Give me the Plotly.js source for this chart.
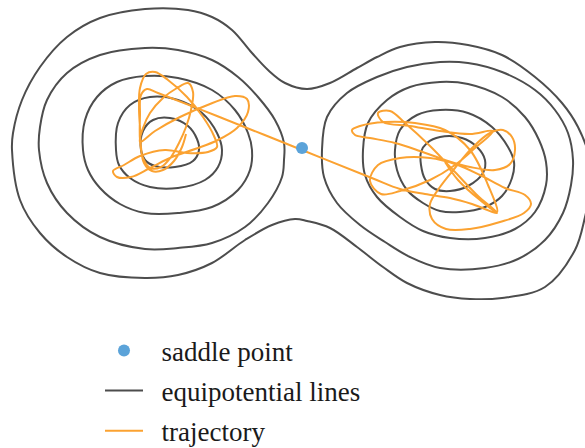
<!DOCTYPE html>
<html>
<head>
<meta charset="utf-8">
<script src="https://cdn.plot.ly/plotly-3.0.1.min.js"></script>
<style>
  html, body { margin: 0; padding: 0; background: #ffffff; }
  #chart { width: 585px; height: 448px; }
</style>
</head>
<body>
<div id="chart"></div>
<script>
// Double-well potential: saddle point at the origin, wells to the left and right.

// Saddle point
const saddleX = [0];
const saddleY = [0];

// Outermost equipotential line, enclosing both wells
const outerX = [-2.90,-2.89,-2.80,-2.62,-2.35,-2.02,-1.57,-1.14,-0.90,-0.70,-0.50,-0.34,-0.17,0.05,0.28,0.55,0.75,0.98,1.33,1.66,2.00,2.33,2.60,2.76,2.88,2.89,2.83,2.73,2.43,2.00,1.68,1.38,1.05,0.81,0.55,0.28,0.05,-0.07,-0.30,-0.57,-0.90,-1.24,-1.57,-2.02,-2.35,-2.62,-2.82,-2.90];
const outerY = [-0.02,0.15,0.48,0.81,1.11,1.30,1.39,1.38,1.31,1.18,0.95,0.78,0.65,0.59,0.65,0.80,0.91,1.01,1.06,1.03,0.93,0.71,0.45,0.21,-0.12,-0.37,-0.69,-1.02,-1.39,-1.50,-1.51,-1.47,-1.35,-1.19,-0.99,-0.80,-0.73,-0.71,-0.77,-0.92,-1.15,-1.27,-1.30,-1.25,-1.09,-0.85,-0.52,-0.02];

// Left well, from the outside in
const left1X = [-2.63,-2.62,-2.55,-2.35,-2.02,-1.57,-1.24,-0.90,-0.64,-0.44,-0.27,-0.18,-0.18,-0.20,-0.34,-0.57,-0.90,-1.24,-1.57,-2.02,-2.35,-2.55,-2.63];
const left1Y = [-0.02,0.21,0.48,0.75,0.93,1.00,0.98,0.88,0.71,0.51,0.28,0.05,-0.12,-0.29,-0.55,-0.79,-0.95,-1.00,-1.01,-0.89,-0.65,-0.35,-0.02];
const left2X = [-2.19,-2.17,-2.05,-1.85,-1.57,-1.24,-0.90,-0.67,-0.54,-0.50,-0.52,-0.64,-0.90,-1.24,-1.57,-1.82,-2.02,-2.14,-2.19];
const left2Y = [-0.02,0.28,0.51,0.66,0.72,0.70,0.58,0.38,0.15,-0.02,-0.22,-0.42,-0.59,-0.65,-0.65,-0.56,-0.40,-0.22,-0.02];
const left3X = [-1.86,-1.84,-1.72,-1.52,-1.24,-1.00,-0.85,-0.80,-0.84,-0.97,-1.24,-1.52,-1.72,-1.83,-1.86];
const left3Y = [-0.02,0.25,0.43,0.51,0.48,0.35,0.15,-0.02,-0.19,-0.32,-0.40,-0.39,-0.30,-0.17,-0.02];
const left4X = [-1.61,-1.59,-1.49,-1.32,-1.14,-1.05,-1.03,-1.09,-1.27,-1.47,-1.57,-1.61];
const left4Y = [-0.02,0.17,0.28,0.30,0.22,0.09,-0.02,-0.13,-0.19,-0.18,-0.12,-0.02];

// Right well, from the outside in
const right1X = [0.20,0.25,0.45,0.75,1.05,1.38,1.66,2.00,2.33,2.53,2.66,2.71,2.69,2.61,2.43,2.16,1.83,1.38,1.08,0.83,0.58,0.35,0.22,0.20];
const right1Y = [-0.02,0.31,0.55,0.71,0.81,0.86,0.85,0.76,0.58,0.38,0.15,-0.12,-0.37,-0.65,-0.92,-1.11,-1.20,-1.20,-1.09,-0.94,-0.77,-0.55,-0.29,-0.02];
const right2X = [0.61,0.66,0.85,1.08,1.38,1.66,2.00,2.23,2.37,2.44,2.44,2.33,2.13,1.83,1.48,1.21,0.98,0.75,0.63,0.61];
const right2Y = [-0.02,0.25,0.48,0.61,0.66,0.64,0.51,0.31,0.08,-0.14,-0.37,-0.64,-0.81,-0.90,-0.90,-0.83,-0.69,-0.49,-0.27,-0.02];
const right3X = [0.93,0.98,1.15,1.38,1.66,1.90,2.06,2.12,2.10,2.00,1.83,1.58,1.38,1.21,1.05,0.95,0.93];
const right3Y = [-0.02,0.18,0.33,0.38,0.35,0.21,0.01,-0.14,-0.30,-0.48,-0.59,-0.64,-0.63,-0.55,-0.42,-0.22,-0.02];
const right4X = [1.19,1.25,1.38,1.60,1.75,1.83,1.81,1.66,1.48,1.33,1.23,1.19,1.19];
const right4Y = [-0.04,0.05,0.11,0.10,0.01,-0.12,-0.25,-0.38,-0.43,-0.41,-0.31,-0.17,-0.04];

// Trajectory: oscillates in the left well, crosses near the saddle, then wanders in the right well
const trajX = [
  -1.16,-1.20,-1.28,-1.39,-1.50,-1.58,-1.61,-1.62,-1.63,-1.62,-1.56,-1.47,-1.34,-1.15,-0.99,-0.88,-0.85,-0.94,-1.15,-1.37,
  -1.62,-1.78,-1.89,-1.85,-1.71,-1.52,-1.30,-1.07,-0.84,-0.65,-0.54,-0.55,-0.67,-0.92,-1.22,-1.47,-1.62,
  -1.59,-1.52,-1.39,-1.25,-1.14,-1.09,-1.11,-1.16,-1.23,-1.31,-1.41,-1.52,-1.59,-1.62,-1.62,-1.61,-1.55,-1.44,
  -0.85,0.00,0.71,0.98,
  1.23,1.48,1.70,1.95,1.76,1.53,1.28,1.03,0.88,0.76,0.81,1.08,1.38,1.68,1.91,1.73,1.53,1.28,0.98,0.79,0.68,0.76,0.98,1.28,1.53,
  1.78,2.03,2.23,2.29,2.22,1.98,1.68,1.44,1.30,1.28,1.38,1.53,1.70,1.88,2.01,2.10,2.13,2.08,1.93,1.68,1.43,1.18,0.93,0.68,0.53,0.50,
  0.58,0.83,1.13,1.43,1.68,1.86,1.95,1.78,1.56,1.43
];
const trajY = [
  0.14,0.01,-0.13,-0.22,-0.23,-0.15,0.01,0.20,0.40,0.60,0.74,0.76,0.68,0.51,0.31,0.12,0.01,-0.04,-0.05,-0.02,
  -0.08,-0.17,-0.23,-0.29,-0.29,-0.20,-0.09,-0.01,0.08,0.20,0.36,0.49,0.52,0.44,0.31,0.17,0.06,
  0.20,0.35,0.50,0.60,0.65,0.56,0.38,0.21,0.05,-0.09,-0.19,-0.20,-0.10,0.08,0.33,0.53,0.59,0.55,
  0.32,-0.02,-0.305,-0.41,
  -0.46,-0.50,-0.56,-0.65,-0.48,-0.24,0.02,0.25,0.37,0.35,0.26,0.22,0.17,0.14,0.17,0.00,-0.17,-0.32,-0.43,-0.46,-0.33,-0.17,-0.10,-0.10,-0.16,
  -0.27,-0.40,-0.47,-0.56,-0.65,-0.74,-0.81,-0.81,-0.71,-0.56,-0.39,-0.20,0.00,0.15,0.18,0.11,-0.02,-0.16,-0.22,-0.19,-0.12,-0.03,0.05,0.10,0.13,0.18,
  0.22,0.26,0.25,0.18,-0.02,-0.37,-0.64,-0.52,-0.32,-0.14
];

const LINE_GRAY = '#4d4d4d';
const ORANGE = '#fba231';
const BLUE = '#5ba3d9';

const rings = [
  [outerX, outerY], [left1X, left1Y], [left2X, left2Y], [left3X, left3Y], [left4X, left4Y],
  [right1X, right1Y], [right2X, right2Y], [right3X, right3Y], [right4X, right4Y]
];

const data = rings.map(function (r, i) {
  return {
    type: 'scatter', mode: 'lines', x: r[0], y: r[1],
    line: { color: LINE_GRAY, width: 2, shape: 'spline', smoothing: 1 },
    name: '\u2002equipotential lines', legendgroup: 'equipotential', legendrank: 2,
    showlegend: i === 0, hoverinfo: 'skip'
  };
});

data.push({
  type: 'scatter', mode: 'lines', x: trajX, y: trajY,
  line: { color: ORANGE, width: 2, shape: 'spline', smoothing: 1 },
  name: '\u2002trajectory', legendgroup: 'trajectory', legendrank: 3, hoverinfo: 'skip'
});

data.push({
  type: 'scatter', mode: 'markers', x: saddleX, y: saddleY,
  marker: { color: BLUE, size: 12 },
  name: '\u2002saddle point', legendgroup: 'saddle', legendrank: 1, hoverinfo: 'skip'
});

const layout = {
  width: 585, height: 448,
  margin: { l: 0, r: 0, t: 0, b: 148, autoexpand: false },
  paper_bgcolor: '#ffffff', plot_bgcolor: '#ffffff',
  xaxis: { range: [-3.02, 2.83], visible: false, fixedrange: true },
  yaxis: { range: [-1.52, 1.48], visible: false, fixedrange: true },
  showlegend: true,
  legend: {
    x: 100 / 585, xanchor: 'left', y: -0.088, yanchor: 'top',
    font: { family: 'Liberation Serif, serif', size: 27, color: '#1a1a1a' },
    itemwidth: 38, tracegroupgap: 2, bgcolor: 'rgba(0,0,0,0)', borderwidth: 0
  }
};

Plotly.newPlot('chart', data, layout, { staticPlot: true, displayModeBar: false });
</script>
</body>
</html>
